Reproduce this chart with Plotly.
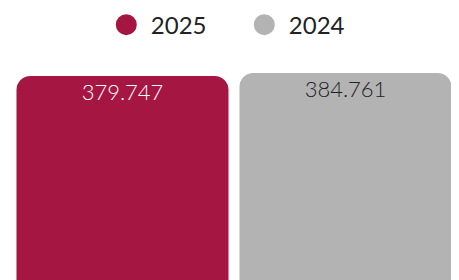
import plotly.graph_objects as go

years = ["2025", "2024"]
values = [379747, 384761]
colors = ["#A51642", "#B3B3B3"]
text_colors = ["#FFFFFF", "#222222"]

fig = go.Figure()
for yr, v, c in zip(years, values, colors):
    fig.add_trace(go.Bar(
        x=[yr], y=[v], name=yr, width=0.9508,
        marker=dict(color=c, line=dict(width=0)),
        showlegend=False, hoverinfo="skip",
    ))
for yr, v, tc in zip(years, values, text_colors):
    fig.add_trace(go.Scatter(
        x=[yr], y=[v], mode="markers+text", texttemplate="%{y:,.0f}",
        textposition="bottom center",
        marker=dict(size=10, color="rgba(0,0,0,0)"),
        textfont=dict(color=tc, size=22, family="Lato", weight=300),
        showlegend=False, cliponaxis=False, hoverinfo="skip",
    ))
for yr, c in zip(years, colors):
    fig.add_trace(go.Scatter(
        x=[None], y=[None], mode="markers", name=yr,
        marker=dict(symbol="circle", size=16, color=c, line=dict(color=c, width=5)),
    ))

fig.update_layout(
    width=451, height=272,
    margin=dict(l=2.5, r=1.5, t=0, b=0, autoexpand=False),
    paper_bgcolor="white", plot_bgcolor="white",
    barmode="overlay",
    barcornerradius=14,
    separators=",.",
    xaxis=dict(visible=False, type="category", range=[-0.5, 1.5]),
    yaxis=dict(visible=False, range=[38850, 493375]),
    legend=dict(orientation="h", x=0.513, xanchor="center", xref="paper",
                y=1.02, yanchor="top", yref="paper",
                font=dict(family="Lato", size=24, color="#222222"),
                itemwidth=39, entrywidth=84, bgcolor="rgba(0,0,0,0)"),
    font=dict(family="Lato"),
)
fig.write_html("out.html")
